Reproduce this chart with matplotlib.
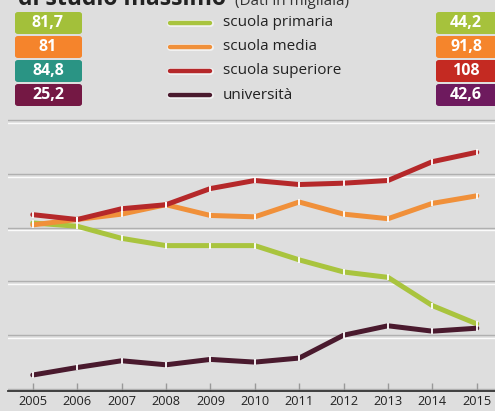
import matplotlib
matplotlib.use("Agg")
import matplotlib.pyplot as plt
import matplotlib.patheffects as pe
from matplotlib.patches import FancyBboxPatch

plt.rcParams['font.family'] = ['Open Sans', 'DejaVu Sans']

anni = [2005, 2006, 2007, 2008, 2009, 2010, 2011, 2012, 2013, 2014, 2015]
primaria = [81.7, 80.5, 76, 73.3, 73.3, 73.3, 68, 63.5, 61.5, 51, 44.2]
media = [81, 83, 85, 88.5, 84.5, 84, 89.5, 85, 83.3, 89, 91.8]
superiore = [84.8, 83, 87, 88.5, 94.5, 97.5, 96, 96.5, 97.5, 104.5, 108]
universita = [25.2, 28, 30.5, 29, 31, 30, 31.5, 40, 43.5, 41.5, 42.6]

serie = ['scuola primaria', 'scuola media', 'scuola superiore', 'università']
valori = [primaria, media, superiore, universita]
colori_linee = ['#a9c43e', '#f0903a', '#b5282a', '#4a1a2e']
colori_sx = ['#a3c03a', '#f5842c', '#2a9484', '#741844']
colori_dx = ['#a6c23c', '#f5852c', '#c42a22', '#6e1a5e']
griglia = [20, 40, 60, 80, 100, 120]

bg = '#dedede'
fig = plt.figure(figsize=(4.95, 4.11), dpi=100, facecolor=bg)
ax = fig.add_axes([0.016, 1 - 391 / 411, 0.984, (391 - 110) / 411])
ax.set_facecolor(bg)
ax.set_xlim(2004.44, 2015.41)
ax.set_ylim(19.26, 123.7)

for g in griglia:
    ax.axhline(g, color='#b0b0b0', lw=1.0, zorder=1,
               path_effects=[pe.SimpleLineShadow(offset=(0, -2), shadow_color='white', alpha=0.9),
                             pe.Normal()])

for v, c in zip(valori, colori_linee):
    ax.plot(anni, v, color=c, lw=3.6, solid_capstyle='round', solid_joinstyle='round', zorder=3)
    ax.plot(anni, v, ls='none', marker='|', ms=5, mew=1.3, mec='white', zorder=4)

for s in ['left', 'right', 'top']:
    ax.spines[s].set_visible(False)
ax.spines['bottom'].set_color('#333333')
ax.spines['bottom'].set_linewidth(1.3)
ax.set_yticks([])
ax.set_xticks(anni)
ax.set_xticklabels([str(a) for a in anni], fontsize=9.2, color='#222222')
ax.tick_params(axis='x', direction='in', length=6, width=1, color='#999999', pad=3)

# titolo (tagliato dal bordo superiore)
fig.text(18 / 495, 1 - 5 / 411, 'di studio massimo', fontsize=16.5, fontweight='bold',
         color='#222222', va='baseline', ha='left')
fig.text(235 / 495, 1 - 5 / 411, '(Dati in migliaia)', fontsize=11,
         color='#333333', va='baseline', ha='left')

# legenda con i valori iniziali e finali
box_y = [12, 36, 60, 84]
box_h = 22
for i, nome in enumerate(serie):
    y0 = box_y[i]
    yc = 1 - (y0 + box_h / 2) / 411
    for x0, w, col, val in [(15, 67, colori_sx[i], valori[i][0]),
                            (436, 70, colori_dx[i], valori[i][-1])]:
        r = FancyBboxPatch((x0 / 495, 1 - (y0 + box_h) / 411), w / 495, box_h / 411,
                           boxstyle='round,pad=0,rounding_size=0.006',
                           transform=fig.transFigure, facecolor=col, edgecolor='none')
        fig.patches.append(r)
        txt = ('%g' % val).replace('.', ',')
        cx = (x0 + 33) / 495 if x0 < 100 else 466 / 495
        fig.text(cx, yc, txt, fontsize=11.5, fontweight='bold', color='white',
                 ha='center', va='center')
    fig.lines.append(plt.Line2D([170 / 495, 210 / 495], [yc, yc], transform=fig.transFigure,
                                color=colori_linee[i], lw=3.2, solid_capstyle='round',
                                path_effects=[pe.Stroke(linewidth=5, foreground='#f2f2f2'),
                                              pe.Normal()]))
    fig.text(223 / 495, yc, nome, fontsize=11, color='#222222', ha='left', va='center')

fig.savefig('out.png', dpi=100, facecolor=bg)
